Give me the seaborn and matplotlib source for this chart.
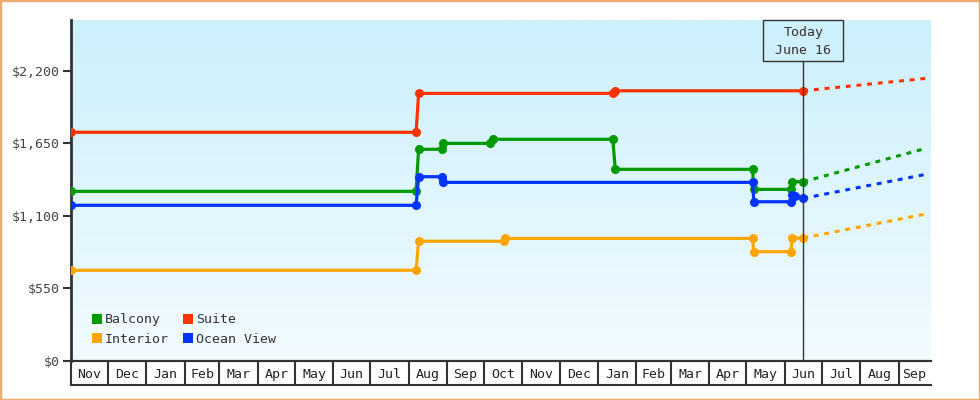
import numpy as np
import pandas as pd
import matplotlib
matplotlib.use("Agg")
import matplotlib.pyplot as plt
import matplotlib.transforms as mtransforms
import matplotlib.dates as mdates
from matplotlib.patches import Rectangle
from matplotlib.lines import Line2D
import seaborn as sns

sns.set_style("white")
plt.rcParams['font.family'] = ['DejaVu Sans Mono', 'DejaVu Sans']

# ---------------- data ----------------
x_start = "2020-11-01"
x_end = "2022-09-27"
today = "2022-06-16"
today_label = "Today\nJune 16"
projection_end = "2022-09-23"

series_names = ["Balcony", "Interior", "Suite", "Ocean View"]
series_colors = ["#009900", "#ffa500", "#ff3300", "#0033ff"]

balcony_dates = ["2020-11-01", "2021-08-07", "2021-08-09", "2021-08-28", "2021-08-29",
                 "2021-10-06", "2021-10-08", "2022-01-13", "2022-01-15", "2022-05-06",
                 "2022-05-07", "2022-06-06", "2022-06-07", "2022-06-16"]
balcony_values = [1285, 1285, 1604, 1604, 1649, 1649, 1680, 1680, 1452, 1452,
                  1300, 1300, 1358, 1358]

interior_dates = ["2020-11-01", "2021-08-07", "2021-08-09", "2021-10-17", "2021-10-18",
                  "2022-05-06", "2022-05-07", "2022-06-06", "2022-06-07", "2022-06-16"]
interior_values = [686, 686, 906, 906, 928, 928, 827, 827, 931, 931]

suite_dates = ["2020-11-01", "2021-08-07", "2021-08-09", "2022-01-13", "2022-01-15",
               "2022-06-16"]
suite_values = [1733, 1733, 2028, 2028, 2048, 2048]

ocean_dates = ["2020-11-01", "2021-08-07", "2021-08-09", "2021-08-28", "2021-08-29",
               "2022-05-06", "2022-05-07", "2022-06-06", "2022-06-07", "2022-06-09",
               "2022-06-16"]
ocean_values = [1179, 1179, 1396, 1396, 1353, 1353, 1206, 1206, 1257, 1250, 1232]

# projected price at end of range (dotted)
projection_values = [1611, 1113, 2142, 1414]

y_ticks = [0, 550, 1100, 1650, 2200]
y_max = 2585

# ---------------- build frames ----------------
all_dates = [balcony_dates, interior_dates, suite_dates, ocean_dates]
all_values = [balcony_values, interior_values, suite_values, ocean_values]

rows = []
for name, ds, vs in zip(series_names, all_dates, all_values):
    for d, v in zip(ds, vs):
        rows.append((name, pd.Timestamp(d), v))
df = pd.DataFrame(rows, columns=["series", "date", "price"])

prow = []
for name, vs, pv in zip(series_names, all_values, projection_values):
    prow.append((name, pd.Timestamp(today), vs[-1]))
    prow.append((name, pd.Timestamp(projection_end), pv))
pdf = pd.DataFrame(prow, columns=["series", "date", "price"])

palette = dict(zip(series_names, series_colors))

# ---------------- figure ----------------
W, H = 980, 400
fig = plt.figure(figsize=(W / 100, H / 100), dpi=100)
fig.patch.set_facecolor("white")

L, R, T, B = 71, 930.7, 20, 360.7
ax = fig.add_axes([L / W, (H - B) / H, (R - L) / W, (B - T) / H])
axb = fig.add_axes([L / W, (H - 385) / H, (R - L) / W, (385 - B) / H], sharex=ax)

# gradient background
grad = np.linspace(0, 1, 256).reshape(-1, 1)
top_c = np.array([204, 240, 252]) / 255
bot_c = np.array([242, 251, 255]) / 255
img = top_c[None, None, :] * (1 - grad[:, :, None]) + bot_c[None, None, :] * grad[:, :, None]
ax.imshow(img, extent=[0, 1, 0, 1], transform=ax.transAxes, aspect="auto", zorder=0)

sns.lineplot(data=pdf, x="date", y="price", hue="series", palette=palette,
             hue_order=series_names, estimator=None, sort=False, legend=False,
             linewidth=2.2, linestyle=(0, (1.6, 1.9)), ax=ax, zorder=2)
sns.lineplot(data=df, x="date", y="price", hue="series", palette=palette,
             hue_order=series_names, estimator=None, sort=False, legend=False,
             linewidth=2.3, marker="o", markersize=6.5, markeredgewidth=0, ax=ax, zorder=3)

ax.set_xlim(pd.Timestamp(x_start), pd.Timestamp(x_end))
ax.set_ylim(0, y_max)
ax.set_yticks(y_ticks)
ax.set_yticklabels(["${:,}".format(v) for v in y_ticks], fontsize=9.5, color="#444444")
ax.tick_params(axis="y", length=6, width=1.5, color="#333333", pad=2, left=True)
ax.tick_params(axis="x", bottom=False, labelbottom=False)
ax.set_xlabel("")
ax.set_ylabel("")
for s in ["top", "right"]:
    ax.spines[s].set_visible(False)
ax.spines["left"].set_color("#333333")
ax.spines["left"].set_linewidth(2)
ax.spines["bottom"].set_color("#333333")
ax.spines["bottom"].set_linewidth(1.5)

# today marker
tr = mtransforms.blended_transform_factory(ax.transData, ax.transAxes)
t_today = pd.Timestamp(today)
box_bottom = (B - 60.7) / (B - T)
ax.plot([t_today, t_today], [0, box_bottom], color="#333333", lw=1, transform=tr, zorder=4)
half_w = pd.Timedelta(days=32.4)
rx = mdates.date2num(t_today - half_w)
rw = mdates.date2num(t_today + half_w) - rx
ax.add_patch(Rectangle((rx, box_bottom), rw, 1 - box_bottom, transform=tr, fill=False,
                       ec="#333333", lw=1, clip_on=False, zorder=4))
l1, l2 = today_label.split("\n")
ax.text(t_today, (B - 32.7) / (B - T), l1, transform=tr, ha="center", va="center",
        fontsize=9.5, color="#333333", clip_on=False)
ax.text(t_today, (B - 50) / (B - T), l2, transform=tr, ha="center", va="center",
        fontsize=9.5, color="#333333", clip_on=False)

# legend
handles = [Line2D([], [], marker="s", linestyle="none", markersize=7.5, color=c,
                  markeredgewidth=0) for c in series_colors]
ax.legend(handles, series_names, ncol=2, loc="lower left", bbox_to_anchor=(0.012, 0.02),
          frameon=False, fontsize=9.5, handletextpad=0.0, columnspacing=0.85,
          labelspacing=0.5, handlelength=1.2, borderaxespad=0.2)
for t in ax.get_legend().get_texts():
    t.set_color("#333333")

# month cells below the axis
month_starts = pd.date_range(x_start, x_end, freq="MS")
edges = list(month_starts) + [pd.Timestamp(x_end)]
axb.set_facecolor("none")
axb.set_ylim(0, 1)
for ms in month_starts:
    axb.axvline(ms, color="#333333", lw=1.5, clip_on=False)
for a, b in zip(edges[:-1], edges[1:]):
    axb.text(a + (b - a) / 2, 0.45, a.strftime("%b"), ha="center", va="center",
             fontsize=9.5, color="#222222")
axb.tick_params(axis="both", left=False, bottom=False, labelleft=False, labelbottom=False)
for s in ["left", "right"]:
    axb.spines[s].set_visible(False)
for s in ["top", "bottom"]:
    axb.spines[s].set_color("#333333")
    axb.spines[s].set_linewidth(1.5)

# figure border
fig.patches.append(Rectangle((0, 0), 1, 1, transform=fig.transFigure, fill=False,
                             ec="#e9ad6f", lw=2.5))

fig.savefig("out.png", dpi=100)
